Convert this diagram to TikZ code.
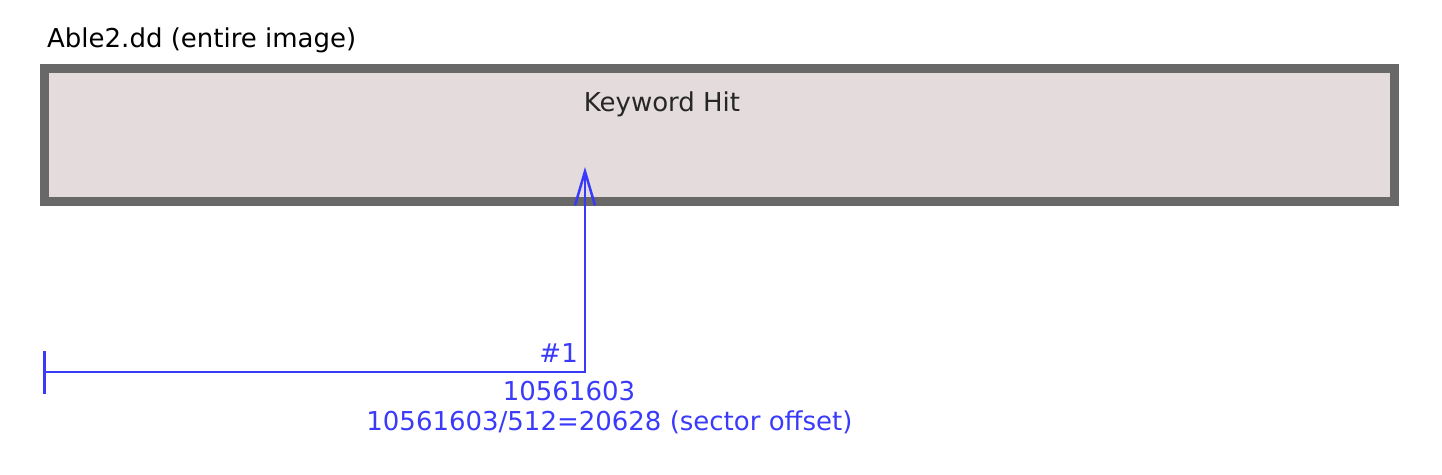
\documentclass[tikz,border=0pt]{standalone}
\usepackage{fontspec}
\setmainfont{DejaVu Sans}
\usepackage{xcolor}
\usetikzlibrary{arrows.meta}
\definecolor{hitblue}{RGB}{58,58,250}
\definecolor{imgborder}{RGB}{104,104,104}
\definecolor{imgfill}{RGB}{227,219,220}

\begin{document}
\begin{tikzpicture}[x=1pt,y=-1pt,
    lbl/.style={inner sep=0pt,font=\fontsize{26}{31}\selectfont},
    bluelbl/.style={lbl,text=hitblue}]
\useasboundingbox (0,0) rectangle (1442,474);
\node[lbl,anchor=base west] (title) at (47,47) {Able2.dd (entire image)};
\node[draw=imgborder,fill=imgfill,line width=9pt,inner sep=0pt,
      minimum width=1349.5pt,minimum height=133.5pt] (image) at (719.25,134.75) {};
\node[lbl,anchor=base,text=black!85] (kw) at (662,111) {Keyword Hit};
\coordinate (start) at (43,372);
\coordinate (hit) at (585,372);
\coordinate (tip) at (585,167);
\draw[hitblue,line width=2.5pt,{Bar[width=43pt]}-{Straight Barb[length=34pt,width=20pt]}]
    (start) -- (hit) -- (tip);
\node[bluelbl,anchor=base east] (num) at (578,362) {\#1};
\node[bluelbl,anchor=base] (off) at (569,400) {10561603};
\node[bluelbl,anchor=base] (sec) at (609.5,430) {10561603/512=20628 (sector offset)};
\end{tikzpicture}
\end{document}
